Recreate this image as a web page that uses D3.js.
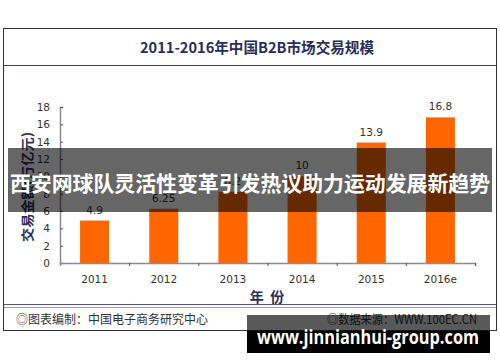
<!DOCTYPE html>
<html><head><meta charset="utf-8">
<script src="https://cdn.jsdelivr.net/npm/d3@7"></script>
<style>
html,body{margin:0;padding:0;background:#fff;}
svg{display:block;}
text{white-space:pre;}
</style></head>
<body>
<svg id="c" width="500" height="362"></svg>
<script>
const years = ["2011","2012","2013","2014","2015","2016e"];
const values = [4.9, 6.25, 8.2, 10, 13.9, 16.8];
const valueLabels = ["4.9","6.25","8.2","10","13.9","16.8"];
const yTicks = [0,2,4,6,8,10,12,14,16,18];
const title = "2011-2016年中国B2B市场交易规模";
const yTitle = "交易金额(万亿元)";
const xTitle = "年  份";
const footLeft = "◎图表编制：中国电子商务研究中心";
const footRight = "◎数据来源：WWW.100EC.CN";
const banner = "西安网球队灵活性变革引发热议助力运动发展新趋势";
const watermark = "www.jinnianhui-group.com";

const svg = d3.select("#c");
const cjk = "'Noto Sans CJK SC','DejaVu Sans',sans-serif";
const num = "'DejaVu Sans','Liberation Sans',sans-serif";
const navy = "#2a2d5c";

// outer frame
svg.append("rect").attr("x",3.5).attr("y",28.5).attr("width",493).attr("height",302)
  .attr("fill","#fff").attr("stroke","#333").attr("stroke-width",1);
// title
svg.append("text").attr("x",257).attr("y",53).attr("text-anchor","middle")
  .attr("font-family",cjk).attr("font-weight","bold").attr("font-size",14.5)
  .attr("fill",navy).attr("textLength",234).attr("lengthAdjust","spacingAndGlyphs").text(title);
svg.append("line").attr("x1",4).attr("x2",496).attr("y1",65.5).attr("y2",65.5)
  .attr("stroke","#3b3d6b").attr("stroke-width",1.2);

// scales
const x = d3.scaleBand().domain(years).range([60,475]).paddingInner(0.58).paddingOuter(0.29);
const y = d3.scaleLinear().domain([0,18]).range([263,107]);

// bars
svg.append("g").selectAll("rect").data(values).join("rect")
  .attr("x",(d,i)=>x(years[i])).attr("width",x.bandwidth())
  .attr("y",d=>y(d)).attr("height",d=>y(0)-y(d)).attr("fill","#ff6600");
svg.append("g").selectAll("text").data(values).join("text")
  .attr("x",(d,i)=>x(years[i])+x.bandwidth()/2).attr("y",d=>y(d)-7)
  .attr("text-anchor","middle").attr("font-family",num).attr("font-size",10.5)
  .attr("fill","#333").text((d,i)=>valueLabels[i]);

// y axis
const ya = svg.append("g").attr("transform","translate(60,0)")
  .call(d3.axisLeft(y).tickValues(yTicks).tickSize(-3).tickPadding(10));
ya.select(".domain").attr("stroke","#8a8a9a").attr("stroke-width",1.5);
ya.selectAll(".tick line").attr("stroke","#555");
ya.selectAll("text").attr("font-family",num).attr("font-size",10.5).attr("fill","#333");

// x axis
const xb = d3.scaleLinear().domain([0,6]).range([60,475]);
const xa = svg.append("g").attr("transform","translate(0,263)")
  .call(d3.axisBottom(xb).tickValues([1,2,3,4,5,6]).tickSize(3).tickFormat(""));
xa.select(".domain").attr("stroke","#8a8a9a").attr("stroke-width",1.5);
xa.selectAll(".tick line").attr("stroke","#555");
svg.append("g").selectAll("text").data(years).join("text")
  .attr("x",d=>x(d)+x.bandwidth()/2).attr("y",283).attr("text-anchor","middle")
  .attr("font-family",num).attr("font-size",10.5).attr("fill","#333").text(d=>d);

// axis titles
svg.append("text").attr("transform","translate(32,187) rotate(-90)").attr("text-anchor","middle")
  .attr("font-family",cjk).attr("font-weight","bold").attr("font-size",13).attr("fill",navy)
  .attr("textLength",110).attr("lengthAdjust","spacingAndGlyphs").text(yTitle);
svg.append("text").attr("x",267).attr("y",302).attr("text-anchor","middle")
  .attr("font-family",cjk).attr("font-weight","bold").attr("font-size",14).attr("fill",navy)
  .text(xTitle);

// footer lines
svg.append("line").attr("x1",4).attr("x2",496).attr("y1",304.5).attr("y2",304.5).attr("stroke","#55577a").attr("stroke-width",1);
svg.append("line").attr("x1",4).attr("x2",496).attr("y1",307.5).attr("y2",307.5).attr("stroke","#9a9ab0").attr("stroke-width",1);
svg.append("text").attr("x",16).attr("y",324).attr("font-family",cjk).attr("font-size",12.5)
  .attr("fill","#333").attr("textLength",192).attr("lengthAdjust","spacingAndGlyphs").text(footLeft);
svg.append("text").attr("x",477).attr("y",324).attr("text-anchor","end").attr("font-family",cjk).attr("font-size",12.5)
  .attr("fill","#333").attr("textLength",150).attr("lengthAdjust","spacingAndGlyphs").text(footRight);

// banner overlay
svg.append("rect").attr("x",8).attr("y",148).attr("width",484).attr("height",64).attr("fill","rgba(0,0,0,0.6)");
svg.append("text").attr("x",250).attr("y",191).attr("text-anchor","middle")
  .attr("font-family",cjk).attr("font-weight","bold").attr("font-size",21).attr("fill","#fff")
  .attr("textLength",480).attr("lengthAdjust","spacingAndGlyphs").text(banner);

// watermark box
svg.append("rect").attr("x",247).attr("y",315).attr("width",243).attr("height",16).attr("fill","rgba(0,0,0,0.65)");
svg.append("rect").attr("x",247).attr("y",331).attr("width",243).attr("height",22).attr("fill","#000");
svg.append("text").attr("x",257).attr("y",344).attr("font-family","'Open Sans','DejaVu Sans',sans-serif")
  .attr("font-weight","bold").attr("font-size",19).attr("fill","#fff")
  .attr("textLength",222).attr("lengthAdjust","spacingAndGlyphs").text(watermark);
</script>
</body></html>
